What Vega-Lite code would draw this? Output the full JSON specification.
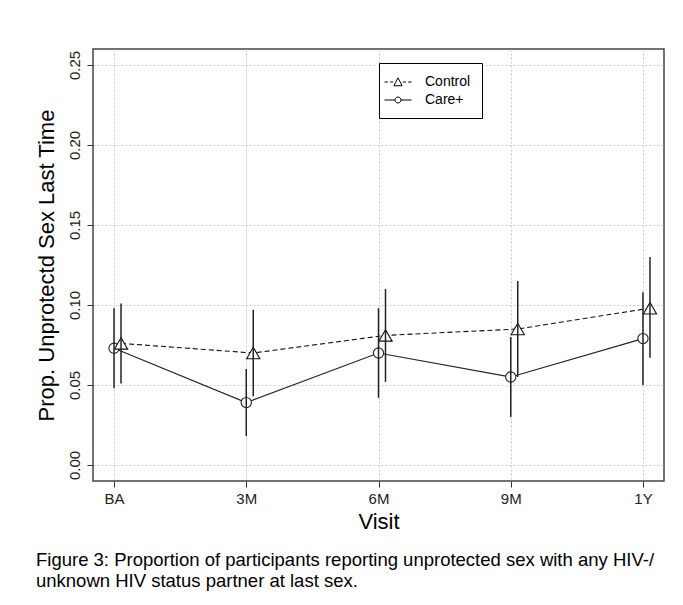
{
  "$schema": "https://vega.github.io/schema/vega-lite/v6.json",
  "autosize": "none",
  "width": 571,
  "height": 432,
  "padding": {"left": 93, "top": 49, "right": 19, "bottom": 124},
  "background": "white",
  "config": {
    "font": "Liberation Sans",
    "view": {"stroke": "#444", "strokeWidth": 1.5},
    "axis": {
      "domain": false,
      "grid": true,
      "gridColor": "#cccccc",
      "gridDash": [2, 2],
      "gridWidth": 1,
      "tickColor": "#333",
      "tickSize": 6,
      "labelColor": "#222",
      "labelFontSize": 15,
      "titleColor": "#000",
      "titleFontSize": 22,
      "titleFontWeight": "normal"
    }
  },
  "data": {
    "values": [
      {"visit": "BA", "group": "Control", "p": 0.076, "lo": 0.051, "hi": 0.101},
      {"visit": "3M", "group": "Control", "p": 0.070, "lo": 0.043, "hi": 0.097},
      {"visit": "6M", "group": "Control", "p": 0.081, "lo": 0.052, "hi": 0.110},
      {"visit": "9M", "group": "Control", "p": 0.085, "lo": 0.055, "hi": 0.115},
      {"visit": "1Y", "group": "Control", "p": 0.098, "lo": 0.067, "hi": 0.130},
      {"visit": "BA", "group": "Care+", "p": 0.073, "lo": 0.048, "hi": 0.098},
      {"visit": "3M", "group": "Care+", "p": 0.039, "lo": 0.018, "hi": 0.060},
      {"visit": "6M", "group": "Care+", "p": 0.070, "lo": 0.042, "hi": 0.098},
      {"visit": "9M", "group": "Care+", "p": 0.055, "lo": 0.030, "hi": 0.080},
      {"visit": "1Y", "group": "Care+", "p": 0.079, "lo": 0.050, "hi": 0.108}
    ]
  },
  "title": {
    "text": ["Figure 3: Proportion of participants reporting unprotected sex with any HIV-/", "unknown HIV status partner at last sex."],
    "orient": "bottom",
    "anchor": "start",
    "frame": "group",
    "dx": -57,
    "offset": 19,
    "font": "Liberation Sans",
    "fontSize": 18.5,
    "fontWeight": "normal",
    "lineHeight": 21,
    "color": "#000"
  },
  "encoding": {
    "x": {
      "field": "visit",
      "type": "ordinal",
      "sort": ["BA", "3M", "6M", "9M", "1Y"],
      "scale": {"type": "point", "padding": 0.159},
      "axis": {"title": "Visit", "labelAngle": 0, "labelPadding": 4, "titlePadding": 5}
    },
    "y": {
      "field": "p",
      "type": "quantitative",
      "scale": {"domain": [-0.01, 0.26], "nice": false, "zero": false},
      "axis": {
        "title": "Prop. Unprotectd Sex Last Time",
        "values": [0, 0.05, 0.1, 0.15, 0.2, 0.25],
        "format": ".2f",
        "labelAngle": -90,
        "labelAlign": "center",
        "labelBaseline": "bottom",
        "labelPadding": 5,
        "titlePadding": 9
      }
    }
  },
  "layer": [
    {
      "transform": [{"filter": "datum.group === 'Care+'"}],
      "mark": {"type": "line", "color": "#222", "strokeWidth": 1.1},
      "encoding": {}
    },
    {
      "transform": [{"filter": "datum.group === 'Control'"}],
      "mark": {"type": "line", "color": "#111", "strokeWidth": 1.1, "strokeDash": [5, 3], "xOffset": 7},
      "encoding": {}
    },
    {
      "transform": [{"filter": "datum.group === 'Care+'"}],
      "mark": {"type": "point", "shape": "circle", "size": 105, "filled": false, "fill": "white", "fillOpacity": 1, "stroke": "#222", "strokeWidth": 1.1, "opacity": 1}
    },
    {
      "transform": [{"filter": "datum.group === 'Control'"}],
      "mark": {"type": "point", "shape": "triangle-up", "size": 175, "filled": false, "fill": "white", "fillOpacity": 1, "stroke": "#111", "strokeWidth": 1.1, "opacity": 1, "xOffset": 7}
    },
    {
      "transform": [{"filter": "datum.group === 'Care+'"}],
      "mark": {"type": "rule", "color": "#222", "strokeWidth": 1.5},
      "encoding": {"y": {"field": "lo", "type": "quantitative"}, "y2": {"field": "hi"}}
    },
    {
      "transform": [{"filter": "datum.group === 'Control'"}],
      "mark": {"type": "rule", "color": "#222", "strokeWidth": 1.5, "xOffset": 7},
      "encoding": {"y": {"field": "lo", "type": "quantitative"}, "y2": {"field": "hi"}}
    },
    {
      "mark": {"type": "point", "opacity": 0, "size": 225},
      "encoding": {
        "shape": {
          "field": "group",
          "type": "nominal",
          "scale": {
            "domain": ["Control", "Care+"],
            "range": [
              "M-1.8,0H-1.35M-1.05,0H-0.65M0.65,0H1.05M1.35,0H1.8M0,-0.55L0.55,0.5L-0.55,0.5Z",
              "M-1.8,0H-0.4M0.4,0H1.8M0.4,0A0.4,0.4 0 1,1 -0.4,0A0.4,0.4 0 1,1 0.4,0"
            ]
          },
          "legend": {
            "title": null,
            "orient": "none",
            "legendX": 286,
            "legendY": 14,
            "padding": 11,
            "strokeColor": "#000",
            "fillColor": "white",
            "labelFontSize": 14,
            "labelColor": "#000",
            "labelOffset": 19,
            "symbolSize": 225,
            "symbolOpacity": 1,
            "symbolStrokeColor": "#000",
            "symbolFillColor": "transparent",
            "symbolStrokeWidth": 1,
            "rowPadding": 3
          }
        }
      }
    }
  ]
}
